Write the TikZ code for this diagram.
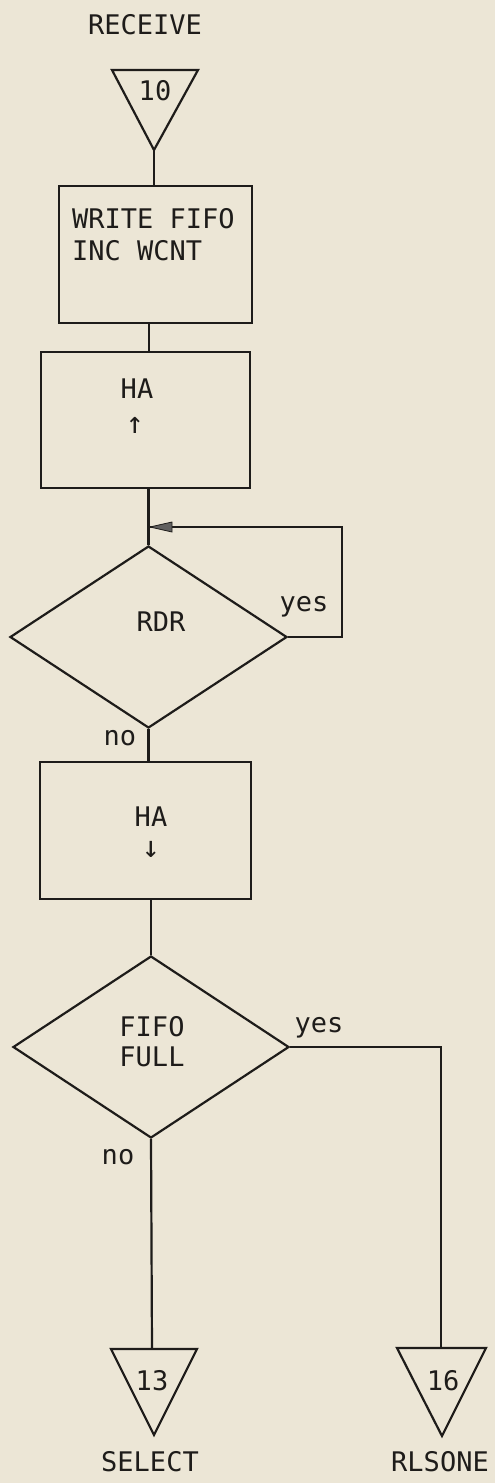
\documentclass[tikz,border=0pt]{standalone}
\usepackage{fontspec}
\setmainfont{DejaVu Sans Mono}
\usetikzlibrary{shapes.geometric,arrows.meta}
\definecolor{paper}{RGB}{236,230,214}
\definecolor{ink}{RGB}{30,28,26}
\tikzset{
  lbl/.style={font=\fontsize{27}{30}\selectfont, text=ink, inner sep=0pt},
  small/.style={font=\fontsize{30}{32}\selectfont, text=ink, inner sep=0pt},
  procbox/.style={draw=ink, line width=2.2pt, rectangle, inner sep=0pt},
  decision/.style={draw=ink, line width=2.2pt, diamond, inner sep=0pt},
  conn/.style={draw=ink, line width=2.2pt},
  tri/.style={draw=ink, line width=2.2pt, line join=miter},
}
\begin{document}
\begin{tikzpicture}[x=1pt,y=-1pt]
\fill[paper] (0,0) rectangle (495,1483);
\useasboundingbox (0,0) rectangle (495,1483);

% start connector
\node[lbl] (receive) at (145,25) {RECEIVE};
\draw[tri] (112,70) -- (198,70) -- (154,150) -- cycle;
\coordinate (t10) at (154,150);
\node[lbl] (n10) at (155,91) {10};

% box 1
\node[procbox, minimum width=193pt, minimum height=137pt] (b1) at (155.5,254.5) {};
\node[lbl, anchor=west] (b1a) at (72,219) {WRITE FIFO};
\node[lbl, anchor=west] (b1b) at (72,251) {INC WCNT};
\draw[conn] (t10) -- (t10 |- b1.north);

% box 2
\node[procbox, minimum width=209pt, minimum height=136pt] (b2) at (145.5,420) {};
\node[lbl] (b2a) at (137,389) {HA};
\node[small] (b2b) at (135,425) {↑};
\draw[conn] (149,323) coordinate (b1s) -- (b1s |- b2.north);

% decision RDR
\node[decision, minimum width=277pt, minimum height=182pt] (d1) at (148.5,637) {};
\node[lbl] (rdr) at (161,622) {RDR};
\draw[conn] (d1.north |- b2.south) -- (d1.north);
\coordinate (merge) at (150,527);
\coordinate (loopc) at (342,527);
\draw[conn] (d1.east) -| (loopc) -- (merge);
\draw[draw=ink, fill=ink!70, line width=0.8pt] (merge) -- ++(22,-5) -- ++(0,10) -- cycle;
\node[lbl] (yes1) at (304,607) {yes};
\node[lbl] (no1) at (120,738) {no};

% box 3
\node[procbox, minimum width=211pt, minimum height=137pt] (b3) at (145.5,830.5) {};
\node[lbl] (b3a) at (151,817) {HA};
\node[small] (b3b) at (151,849) {↓};
\draw[conn] (d1.south) -- (d1.south |- b3.north);

% decision FIFO FULL
\node[decision, minimum width=276pt, minimum height=182pt] (d2) at (151,1047) {};
\node[lbl, align=center] (ff) at (152,1042) {FIFO\\FULL};
\draw[conn] (d2.north |- b3.south) -- (d2.north);
\node[lbl] (yes2) at (319,1028) {yes};
\node[lbl] (no2) at (118,1157) {no};

% end connectors
\draw[tri] (111,1349) -- (197,1349) -- (154,1435) -- cycle;
\coordinate (t13) at (152,1349);
\node[lbl] (n13) at (152,1381) {13};
\node[lbl] (select) at (150,1462) {SELECT};

\draw[tri] (397,1348) -- (486,1348) -- (442,1436) -- cycle;
\coordinate (t16) at (441,1348);
\node[lbl] (n16) at (443,1381) {16};
\node[lbl] (rlsone) at (440,1462) {RLSONE};

\draw[conn] (d2.south) -- (t13);
\draw[conn] (d2.east) -| (t16);
\end{tikzpicture}
\end{document}
